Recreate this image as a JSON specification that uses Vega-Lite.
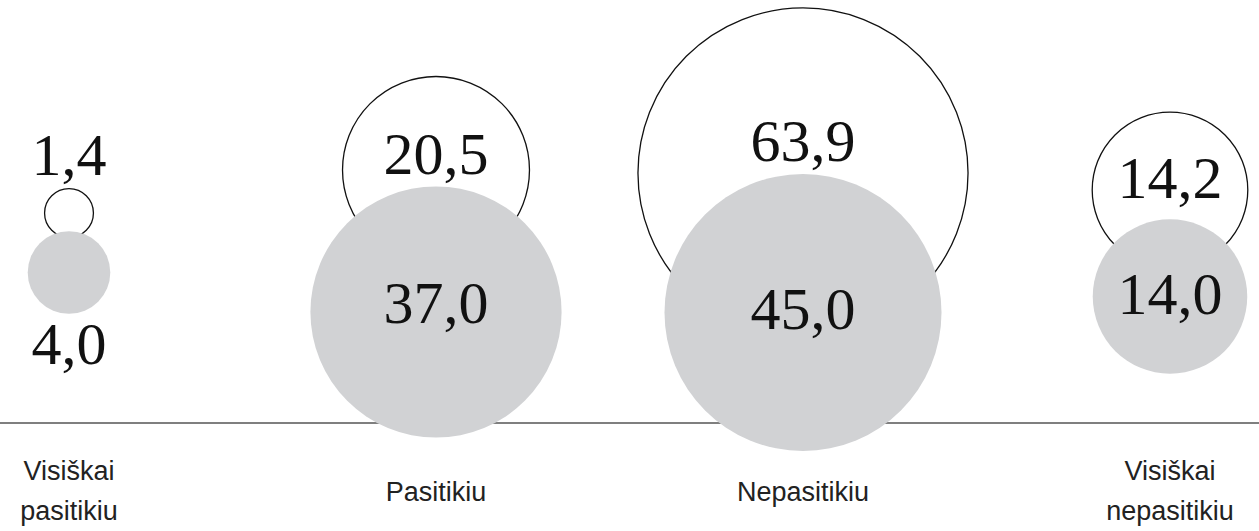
{
  "$schema": "https://vega.github.io/schema/vega-lite/v6.json",
  "width": 1259,
  "height": 531,
  "padding": 0,
  "autosize": "none",
  "background": "white",
  "config": {
    "view": {"stroke": null},
    "locale": {"number": {"decimal": ",", "thousands": " ", "grouping": [3], "currency": ["", " €"]}}
  },
  "datasets": {
    "bubbles": [
      {"cat": "Visiškai pasitikiu", "kind": "open", "value": 1.4, "h": 210, "lh": 266},
      {"cat": "Visiškai pasitikiu", "kind": "gray", "value": 4.0, "h": 150.5, "lh": 77},
      {"cat": "Pasitikiu", "kind": "open", "value": 20.5, "h": 253, "lh": 267},
      {"cat": "Pasitikiu", "kind": "gray", "value": 37.0, "h": 111, "lh": 118},
      {"cat": "Nepasitikiu", "kind": "open", "value": 63.9, "h": 250, "lh": 280},
      {"cat": "Nepasitikiu", "kind": "gray", "value": 45.0, "h": 110.5, "lh": 112},
      {"cat": "Visiškai nepasitikiu", "kind": "open", "value": 14.2, "h": 233, "lh": 243},
      {"cat": "Visiškai nepasitikiu", "kind": "gray", "value": 14.0, "h": 126.5, "lh": 127}
    ],
    "cats": [
      {"cat": "Visiškai pasitikiu", "label": "Visiškai\npasitikiu", "lines": 2},
      {"cat": "Pasitikiu", "label": "Pasitikiu", "lines": 1},
      {"cat": "Nepasitikiu", "label": "Nepasitikiu", "lines": 1},
      {"cat": "Visiškai nepasitikiu", "label": "Visiškai\nnepasitikiu", "lines": 2}
    ]
  },
  "resolve": {"scale": {"x": "shared", "y": "shared"}},
  "layer": [
    {
      "data": {"values": [{}]},
      "mark": {"type": "rule", "color": "#555555", "strokeWidth": 1.5},
      "encoding": {
        "y": {"datum": 0, "type": "quantitative", "scale": {"domain": [-108, 423], "nice": false, "zero": false}, "axis": null}
      }
    },
    {
      "data": {"name": "bubbles"},
      "transform": [{"filter": "datum.kind === 'open'"}],
      "mark": {"type": "circle", "fill": "white", "stroke": "#111111", "strokeWidth": 1.3, "opacity": 1, "fillOpacity": 1},
      "encoding": {
        "x": {"field": "cat", "type": "nominal", "scale": {"type": "point", "domain": ["Visiškai pasitikiu", "Pasitikiu", "Nepasitikiu", "Visiškai nepasitikiu"], "range": [69, 1170], "padding": 0}, "axis": null},
        "y": {"field": "h", "type": "quantitative", "axis": null},
        "size": {"field": "value", "type": "quantitative", "scale": {"domain": [0, 45], "range": [0, 76729], "zero": true}, "legend": null}
      }
    },
    {
      "data": {"name": "bubbles"},
      "transform": [{"filter": "datum.kind === 'gray'"}],
      "mark": {"type": "circle", "fill": "#d1d2d4", "opacity": 1, "fillOpacity": 1},
      "encoding": {
        "x": {"field": "cat", "type": "nominal", "axis": null},
        "y": {"field": "h", "type": "quantitative", "axis": null},
        "size": {"field": "value", "type": "quantitative", "legend": null}
      }
    },
    {
      "data": {"name": "bubbles"},
      "mark": {"type": "text", "font": "Liberation Serif", "fontSize": 60, "color": "#111111", "align": "center", "baseline": "middle"},
      "encoding": {
        "x": {"field": "cat", "type": "nominal", "axis": null},
        "y": {"field": "lh", "type": "quantitative", "axis": null},
        "text": {"field": "value", "type": "quantitative", "format": ".1f"}
      }
    },
    {
      "data": {"name": "cats"},
      "transform": [{"filter": "datum.lines === 1"}],
      "mark": {"type": "text", "font": "Liberation Sans", "fontSize": 27, "color": "#222222", "align": "center", "baseline": "middle"},
      "encoding": {
        "x": {"field": "cat", "type": "nominal", "axis": null},
        "y": {"datum": -70, "type": "quantitative", "axis": null},
        "text": {"field": "label", "type": "nominal"}
      }
    },
    {
      "data": {"name": "cats"},
      "transform": [{"filter": "datum.lines === 2"}],
      "mark": {"type": "text", "font": "Liberation Sans", "fontSize": 27, "color": "#222222", "align": "center", "baseline": "middle", "lineBreak": "\n", "lineHeight": 40},
      "encoding": {
        "x": {"field": "cat", "type": "nominal", "axis": null},
        "y": {"datum": -49, "type": "quantitative", "axis": null},
        "text": {"field": "label", "type": "nominal"}
      }
    }
  ]
}
